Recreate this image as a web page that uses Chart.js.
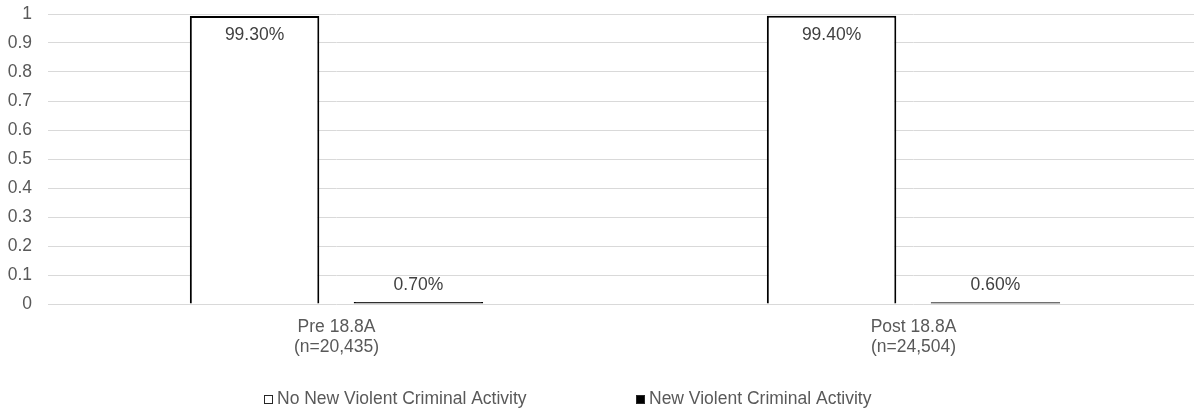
<!DOCTYPE html>
<html>
<head>
<meta charset="utf-8">
<script src="https://cdn.jsdelivr.net/npm/chart.js@4.4.1/dist/chart.umd.min.js"></script>
<style>
  html, body { margin: 0; padding: 0; background: #fff; overflow: hidden; }
  #wrap { position: relative; width: 1202px; height: 408px; }
  canvas { display: block; }
</style>
</head>
<body>
<div id="wrap"><canvas id="c" width="1202" height="408"></canvas></div>
<script>
const categories = [['Pre 18.8A', '(n=20,435)'], ['Post 18.8A', '(n=24,504)']];
const seriesNames = ['No New Violent Criminal Activity', 'New Violent Criminal Activity'];
const noNewViolent = [0.993, 0.994];
const newViolent = [0.007, 0.006];
const yTicks = [0, 0.1, 0.2, 0.3, 0.4, 0.5, 0.6, 0.7, 0.8, 0.9, 1];

const FONT = "'Liberation Sans', Arial, sans-serif";
const FS = 17.5;
const TXT = '#595959';

const dataLabels = {
  id: 'dataLabels',
  afterDatasetsDraw(chart) {
    const ctx = chart.ctx;
    ctx.save();
    ctx.font = FS + 'px ' + FONT;
    ctx.fillStyle = '#404040';
    ctx.textAlign = 'center';
    ctx.textBaseline = 'middle';
    chart.data.datasets.forEach((ds, di) => {
      const meta = chart.getDatasetMeta(di);
      meta.data.forEach((bar, i) => {
        const v = ds.data[i];
        const txt = (v * 100).toFixed(2) + '%';
        const y = di === 0 ? bar.y + 19 : bar.y - 17;
        ctx.fillText(txt, bar.x, y);
      });
    });
    ctx.restore();
  }
};

const customLegend = {
  id: 'customLegend',
  afterDraw(chart) {
    const ctx = chart.ctx;
    ctx.save();
    ctx.font = FS + 'px ' + FONT;
    ctx.textBaseline = 'middle';
    ctx.textAlign = 'left';
    const y = 399.5;
    const starts = [264, 636];
    chart.data.datasets.forEach((ds, i) => {
      const x = starts[i];
      ctx.fillStyle = ds.backgroundColor;
      ctx.fillRect(x, y - 4.5, 9, 9);
      ctx.strokeStyle = '#262626';
      ctx.lineWidth = 1;
      ctx.strokeRect(x + 0.5, y - 4, 8, 8);
      ctx.fillStyle = TXT;
      ctx.fillText(ds.label, x + 13, y);
    });
    ctx.restore();
  }
};

new Chart(document.getElementById('c'), {
  type: 'bar',
  data: {
    labels: categories,
    datasets: [
      { label: seriesNames[0], data: noNewViolent, backgroundColor: '#ffffff', borderColor: '#000000', borderWidth: 2,
        categoryPercentage: 0.568, barPercentage: 0.79 },
      { label: seriesNames[1], data: newViolent, backgroundColor: '#000000', borderColor: '#000000', borderWidth: 2,
        categoryPercentage: 0.568, barPercentage: 0.79 }
    ]
  },
  options: {
    responsive: false,
    maintainAspectRatio: false,
    animation: false,
    devicePixelRatio: 1,
    layout: { padding: { top: 14, right: 0, bottom: 0, left: 0 } },
    plugins: { legend: { display: false }, tooltip: { enabled: false } },
    scales: {
      x: {
        grid: { display: false, drawTicks: false },
        border: { display: false },
        ticks: { color: TXT, font: { family: FONT, size: FS, lineHeight: 20 / FS }, padding: 13, maxRotation: 0 },
        afterFit(scale) { scale.height = 104; }
      },
      y: {
        min: 0, max: 1,
        afterBuildTicks(scale) { scale.ticks = yTicks.map(v => ({ value: v })); },
        grid: { color: '#d9d9d9', lineWidth: 1, drawTicks: false },
        border: { display: false },
        ticks: { color: TXT, font: { family: FONT, size: FS }, padding: 16,
          callback: v => String(Math.round(v * 10) / 10) },
        afterFit(scale) { scale.width = 48; scale.paddingTop = 0; scale.paddingBottom = 0; }
      }
    }
  },
  plugins: [dataLabels, customLegend]
});
</script>
</body>
</html>
